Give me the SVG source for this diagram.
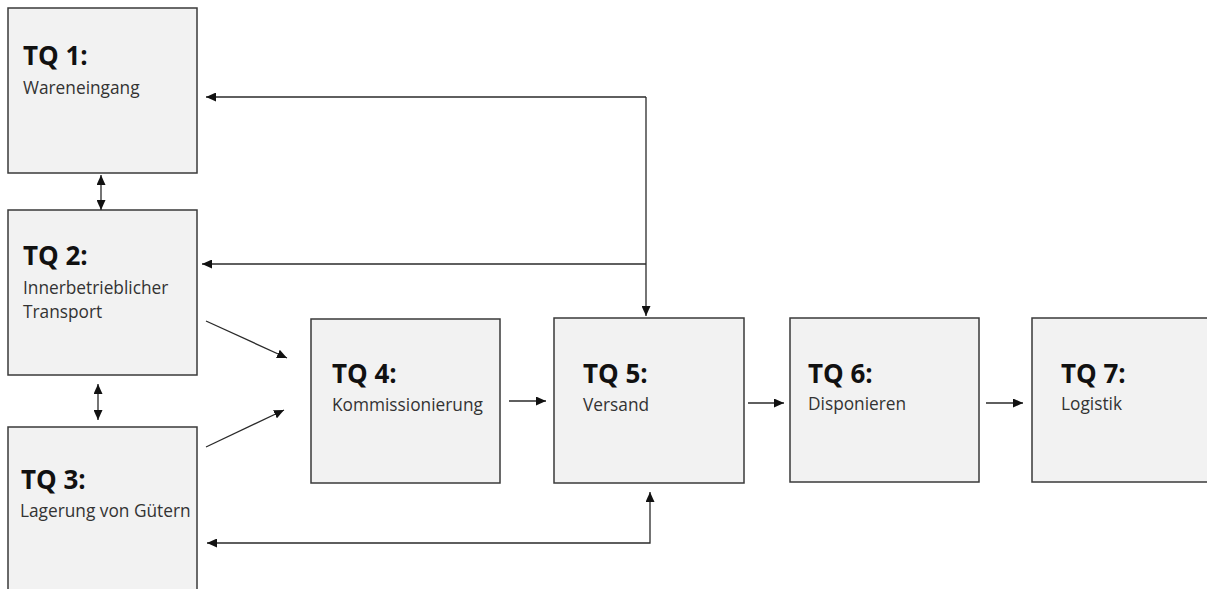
<svg xmlns="http://www.w3.org/2000/svg" width="1207" height="589" viewBox="0 0 1207 589">
<style>
.box{fill:#f2f2f2;stroke:#3a3a3a;stroke-width:1.5}
.t{font-family:"Open Sans","Liberation Sans",sans-serif;font-weight:bold;font-size:26px;fill:#111}
.s{font-family:"Open Sans","Liberation Sans",sans-serif;font-size:17.3px;fill:#333}
.c{fill:none;stroke:#2a2a2a;stroke-width:1.3}
</style>
<defs>
<marker id="ah" viewBox="0 0 10 9" refX="10" refY="4.5" markerWidth="10" markerHeight="9" markerUnits="userSpaceOnUse" orient="auto-start-reverse">
<path d="M0,0 L10,4.5 L0,9 Z" fill="#111"/>
</marker>
</defs>
<rect width="1207" height="589" fill="#ffffff"/>
<g id="tq1"><rect class="box" x="8" y="8" width="189" height="165"/><text class="t" x="23" y="65">TQ 1:</text><text class="s" x="23" y="94">Wareneingang</text></g>
<g id="tq2"><rect class="box" x="8" y="210" width="189" height="165"/><text class="t" x="23" y="265">TQ 2:</text><text class="s" x="23" y="294">Innerbetrieblicher</text><text class="s" x="23" y="318">Transport</text></g>
<g id="tq3"><rect class="box" x="8" y="427" width="189" height="175"/><text class="t" x="21" y="489">TQ 3:</text><text class="s" x="20" y="517">Lagerung von Gütern</text></g>
<g id="tq4"><rect class="box" x="311" y="319" width="189" height="164"/><text class="t" x="332" y="383">TQ 4:</text><text class="s" x="332" y="411">Kommissionierung</text></g>
<g id="tq5"><rect class="box" x="554" y="318" width="190" height="165"/><text class="t" x="583" y="383">TQ 5:</text><text class="s" x="583" y="411">Versand</text></g>
<g id="tq6"><rect class="box" x="790" y="318" width="189" height="164"/><text class="t" x="808" y="383">TQ 6:</text><text class="s" x="808" y="410">Disponieren</text></g>
<g id="tq7"><rect class="box" x="1032" y="318" width="190" height="164"/><text class="t" x="1061" y="383">TQ 7:</text><text class="s" x="1061" y="410">Logistik</text></g>
<g id="connectors">
<line class="c" x1="101" y1="175" x2="101" y2="210" marker-start="url(#ah)" marker-end="url(#ah)"/>
<line class="c" x1="98" y1="384" x2="98" y2="420" marker-start="url(#ah)" marker-end="url(#ah)"/>
<path class="c" d="M646,97 L206,97" marker-end="url(#ah)"/>
<path class="c" d="M646,97 L646,316" marker-end="url(#ah)"/>
<path class="c" d="M646,264 L202,264" marker-end="url(#ah)"/>
<path class="c" d="M207,543 L650,543 L650,492" marker-start="url(#ah)" marker-end="url(#ah)"/>
<line class="c" x1="206" y1="321" x2="287" y2="358" marker-end="url(#ah)"/>
<line class="c" x1="206" y1="447" x2="284" y2="410" marker-end="url(#ah)"/>
<line class="c" x1="509" y1="401" x2="546" y2="401" marker-end="url(#ah)"/>
<line class="c" x1="748" y1="403" x2="784" y2="403" marker-end="url(#ah)"/>
<line class="c" x1="986" y1="403" x2="1023" y2="403" marker-end="url(#ah)"/>
</g>
</svg>
